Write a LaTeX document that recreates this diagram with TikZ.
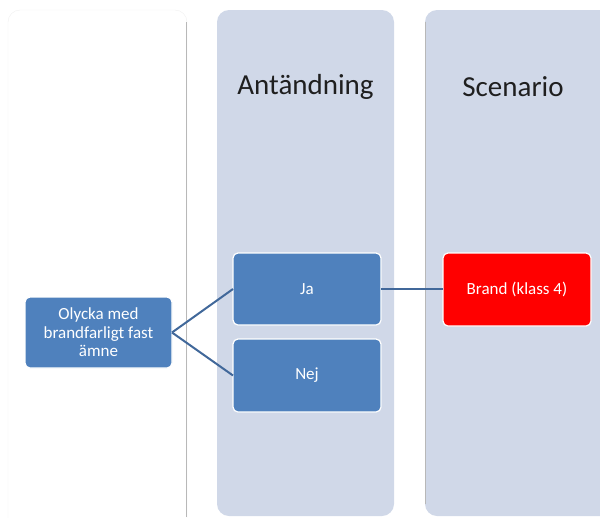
\documentclass[tikz,border=0pt]{standalone}
\usepackage{fontspec}
\setmainfont{Carlito}
\definecolor{lane}{HTML}{D0D8E8}
\definecolor{boxblue}{HTML}{4F81BD}
\definecolor{linkblue}{HTML}{41689A}
\definecolor{edgegray}{HTML}{B8B8B8}
\begin{document}
\begin{tikzpicture}[x=1pt,y=-1pt,
  lanebox/.style={rounded corners=12pt},
  stepbox/.style={draw=white, line width=1.2pt, rounded corners=5pt, text=white,
    font=\fontsize{17}{18.5}\selectfont, align=center, inner sep=0pt},
  header/.style={font=\fontsize{29}{33}\selectfont, text=black!88},
  link/.style={draw=linkblue, line width=2pt}]
\useasboundingbox (0,0) rectangle (600,517);
% swim lanes
\fill[white, lanebox] (8,10) rectangle (187,535);
\draw[black!6, lanebox] (8,10) rectangle (187,535);
\draw[edgegray, line width=0.8pt] (186.5,22) -- (186.5,517);
\fill[lane, lanebox] (217,10) rectangle (394,516);
\fill[lane, lanebox] (425,10) rectangle (640,516);
\draw[edgegray, line width=0.8pt] (425.5,22) -- (425.5,504);
% lane headers
\node[header] (h1) at (305.5,87) {Antändning};
\node[header] (h2) at (513,87) {Scenario};
% steps
\path[fill=boxblue, stepbox] (25,297) rectangle (172,368);
\node[stepbox, draw=none] (olycka) at (98.5,332.5) {Olycka med\\brandfarligt fast\\ämne};
\path[fill=boxblue, stepbox] (233,253) rectangle (381,325);
\node[stepbox, draw=none] (ja) at (307,289) {Ja};
\path[fill=boxblue, stepbox] (233,339) rectangle (381,412);
\node[stepbox, draw=none] (nej) at (307,375.5) {Nej};
\path[fill=red, stepbox] (443,253) rectangle (591,326);
\node[stepbox, draw=none] (brand) at (517,289.5) {Brand (klass 4)};
% anchors on box edges
\coordinate (olyckaR) at (172,332.5);
\coordinate (jaL) at (233,289);
\coordinate (jaR) at (381,289);
\coordinate (nejL) at (233,375.5);
\coordinate (brandL) at (443,289);
\draw[link] (olyckaR) -- (jaL);
\draw[link] (olyckaR) -- (nejL);
\draw[link] (jaR) -- (brandL);
\end{tikzpicture}
\end{document}
